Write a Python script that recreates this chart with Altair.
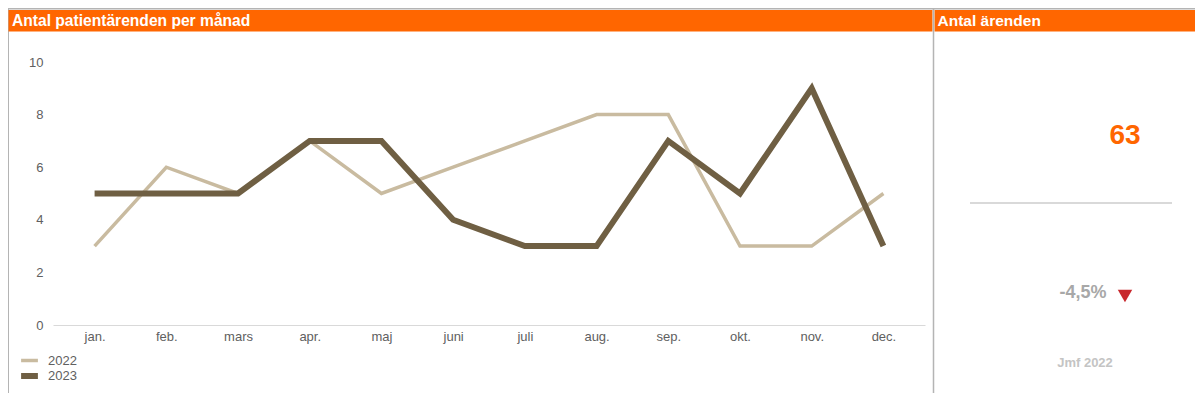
import altair as alt
import pandas as pd

# ---- data ----
months = ["jan.", "feb.", "mars", "apr.", "maj", "juni", "juli", "aug.", "sep.", "okt.", "nov.", "dec."]
values_2022 = [3, 6, 5, 7, 5, 6, 7, 8, 8, 3, 3, 5]
values_2023 = [5, 5, 5, 7, 7, 4, 3, 3, 7, 5, 9, 3]
years = ["2022", "2023"]
y_ticks = [0, 2, 4, 6, 8, 10]
title_left = "Antal patientärenden per månad"
title_right = "Antal ärenden"
compare_label = "Jmf 2022"

# ---- styles ----
line_colors = ["#c9bba0", "#6f5f43"]
line_widths = [3.5, 6]
ORANGE = "#ff6600"
BORDER = "#b4b4b4"
FONT = "Liberation Sans"
W, H = 1187, 385

rows = []
for yr, vals in zip(years, [values_2022, values_2023]):
    for m, v in zip(months, vals):
        rows.append({"Månad": m, "År": yr, "Antal": v})
df = pd.DataFrame(rows)

total = sum(values_2023)
prev = sum(values_2022)
change = (total - prev) / prev * 100
kpi = pd.DataFrame({"total": [total], "change": [f"{change:.1f}%".replace(".", ",")]})
one = pd.DataFrame({"v": [0]})

legend_props = dict(title=None, orient="none", legendX=14.5, legendY=346,
                    symbolType="M-2.1,0H2.1", symbolSize=64,
                    labelFontSize=13, labelColor="#606060",
                    labelOffset=11.5, rowPadding=-4, padding=0, labelFont=FONT)

lines = alt.Chart(df).mark_line(strokeCap="butt", strokeJoin="miter").encode(
    x=alt.X("Månad:N", sort=months,
            scale=alt.Scale(type="point", range=[45, 917], padding=0.58),
            axis=alt.Axis(title=None, offset=-(H - 317), ticks=False, grid=False,
                          domainColor="#d9d9d9", domainWidth=1,
                          labelColor="#606060", labelFontSize=13, labelPadding=5,
                          labelAngle=0, labelFont=FONT)),
    y=alt.Y("Antal:Q",
            scale=alt.Scale(domain=[0, 10], range=[317, 54], nice=False),
            axis=alt.Axis(title=None, values=y_ticks, offset=-45, domain=False,
                          ticks=False, grid=False, labelColor="#606060",
                          labelFontSize=13, labelPadding=10, labelFont=FONT)),
    color=alt.Color("År:O", scale=alt.Scale(domain=years, range=line_colors),
                    legend=alt.Legend(**legend_props)),
    strokeWidth=alt.StrokeWidth("År:O", scale=alt.Scale(domain=years, range=line_widths),
                                legend=alt.Legend(**legend_props)),
)

base = alt.Chart(one)

top_border = base.mark_rule(color=BORDER, strokeWidth=1.5).encode(
    x=alt.value(0), x2=alt.value(W), y=alt.value(0.75))
left_border = base.mark_rule(color=BORDER, strokeWidth=1.5).encode(
    x=alt.value(0.25), y=alt.value(0), y2=alt.value(H))
bar_left = base.mark_rect(color=ORANGE).encode(
    x=alt.value(0.5), x2=alt.value(924.5), y=alt.value(2), y2=alt.value(23.5))
bar_right = base.mark_rect(color=ORANGE).encode(
    x=alt.value(926.5), x2=alt.value(W), y=alt.value(2), y2=alt.value(23.5))
sep = base.mark_rule(color=BORDER, strokeWidth=1.5).encode(
    x=alt.value(925.5), y=alt.value(0), y2=alt.value(H))

t_left = base.mark_text(align="left", baseline="alphabetic", color="white",
                        font=FONT, fontSize=15.6, fontWeight="bold").encode(
    x=alt.value(4), y=alt.value(18), text=alt.value(title_left))
t_right = base.mark_text(align="left", baseline="alphabetic", color="white",
                         font=FONT, fontSize=15.5, fontWeight="bold").encode(
    x=alt.value(929.5), y=alt.value(18), text=alt.value(title_right))

kbase = alt.Chart(kpi)
big = kbase.mark_text(align="center", baseline="middle", color=ORANGE,
                      font=FONT, fontSize=28, fontWeight="bold").encode(
    x=alt.value(1117), y=alt.value(128), text="total:Q")
hline = base.mark_rule(color="#d9d9d9", strokeWidth=2).encode(
    x=alt.value(962), x2=alt.value(1164), y=alt.value(195))
chg = kbase.mark_text(align="center", baseline="middle", color="#a8a8a8",
                      font=FONT, fontSize=18, fontWeight="bold").encode(
    x=alt.value(1075), y=alt.value(285), text="change:N")
tri = base.mark_point(shape="triangle-down", filled=True, color="#c8282d",
                      size=210, opacity=1).encode(
    x=alt.value(1117), y=alt.value(288))
jmf = base.mark_text(align="center", baseline="middle", color="#c4c4c4",
                     font=FONT, fontSize=13, fontWeight="bold").encode(
    x=alt.value(1077), y=alt.value(355), text=alt.value(compare_label))

chart = alt.layer(
    top_border, left_border, bar_left, bar_right, sep, t_left, t_right,
    lines, big, hline, chg, tri, jmf
).properties(
    width=W, height=H, autosize=alt.AutoSizeParams(type="none"), padding=0
).configure_view(stroke=None).configure(font=FONT)

chart.save("out.html", embed_options={"renderer": "svg", "actions": False})
